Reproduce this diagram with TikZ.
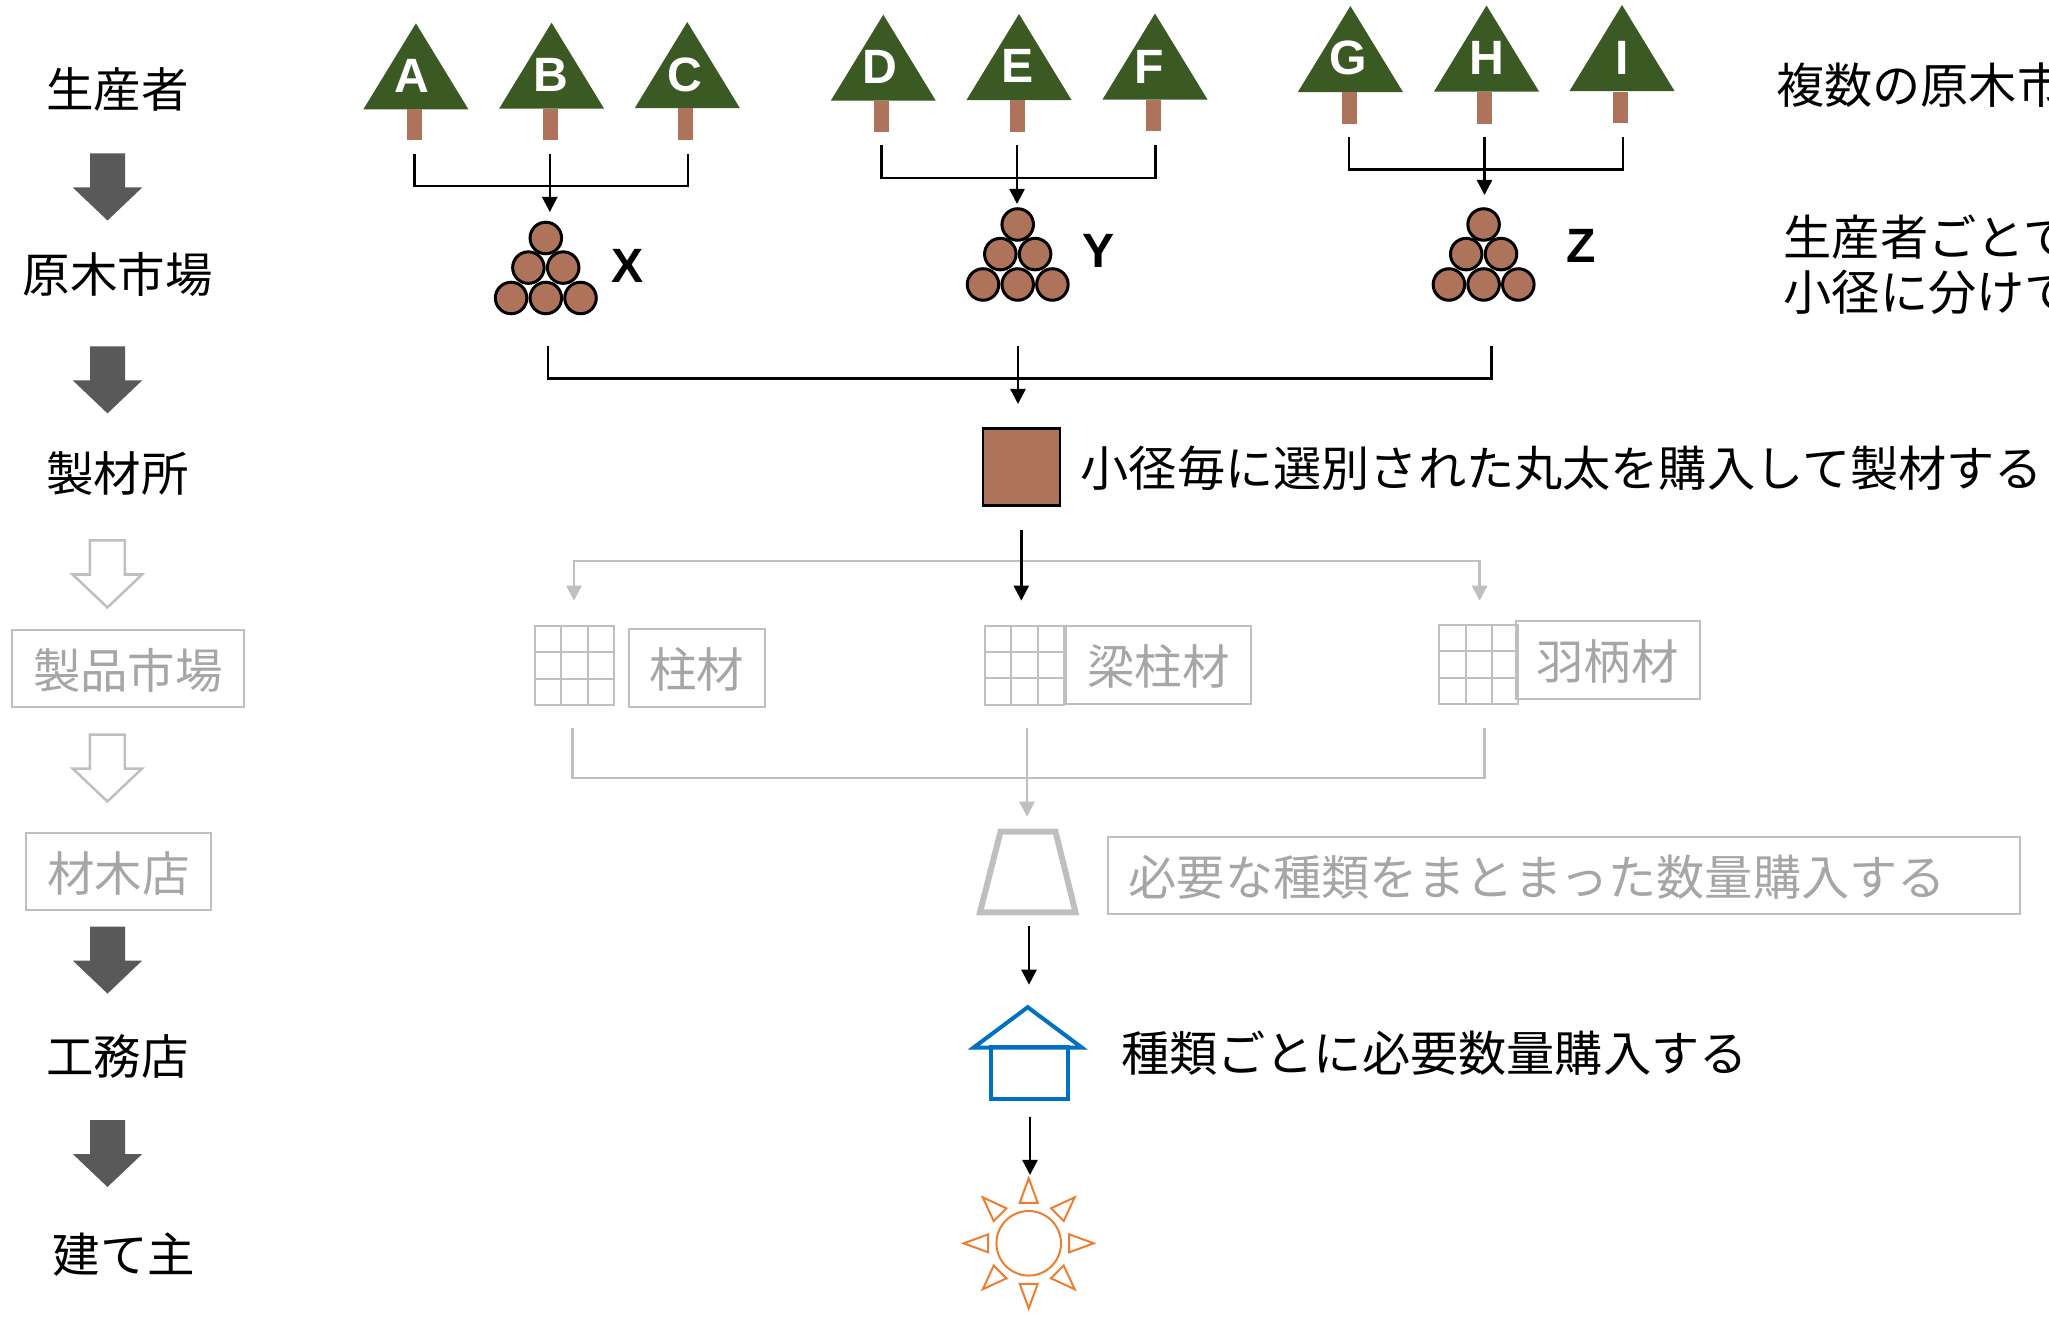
\documentclass[tikz,border=0pt]{standalone}
\usepackage{fontspec}
\setmainfont{Noto Sans CJK JP}
\newfontfamily\latinfont{Liberation Sans}
\usetikzlibrary{arrows.meta,positioning,shapes.geometric}
\definecolor{leafgreen}{HTML}{3B5A23}
\definecolor{woodbrown}{HTML}{AE735B}
\definecolor{fadeline}{HTML}{BFBFBF}
\definecolor{fadetext}{HTML}{A6A6A6}
\definecolor{darkblock}{HTML}{595959}
\definecolor{hutblue}{HTML}{0070C0}
\definecolor{sunorange}{HTML}{ED7D31}

\begin{document}
\begin{tikzpicture}[x=0.01cm,y=-0.01cm,line width=0.25mm,>={Triangle[length=4.3pt,width=4.3pt]},
  jp/.style={font=\fontsize{13.5pt}{17pt}\selectfont,inner sep=0pt,align=left},
  jpnote/.style={jp,font=\fontsize{13.7pt}{17pt}\selectfont,anchor=west},
  faded/.style={jp,text=fadetext},
  leaf/.style={isosceles triangle,isosceles triangle stretches,shape border rotate=90,fill=leafgreen,
    inner sep=0pt,outer sep=0pt,minimum width=1.05cm,minimum height=0.86cm,anchor=apex},
  bark/.style={fill=woodbrown,inner sep=0pt,minimum width=0.15cm,minimum height=0.31cm},
  letter/.style={font=\latinfont\bfseries\fontsize{13.7pt}{16pt}\selectfont,text=white,inner sep=0pt},
  stack/.style={letter,text=black},
  wood/.style={circle,draw,fill=woodbrown,line width=0.03cm,inner sep=0pt,minimum size=0.315cm},
  logpile/.pic={
    \node[wood] (-a) at (0,0) {};
    \node[wood] (-b) at (-17.4,29.6) {};
    \node[wood] (-c) at (17.4,29.6) {};
    \node[wood] (-d) at (-34.7,60) {};
    \node[wood] (-e) at (0,60) {};
    \node[wood] (-f) at (34.7,60) {};
  },
  blockdown/.pic={
    \path[pic actions] (-17.5,0) -- (17.5,0) -- (17.5,34) -- (34.7,34) -- (0,67)
      -- (-34.7,34) -- (-17.5,34) -- cycle;
  },
  darkdown/.style={fill=darkblock},
  lightdown/.style={draw=fadeline,fill=white},
  fadebox/.style={faded,draw=fadeline,line width=0.02cm,outer sep=0pt},
  timbergrid/.style={draw=fadeline,fill=white,line width=0.02cm,inner sep=0pt,outer sep=0pt,minimum size=0.79cm,
    path picture={\draw[fadeline,line width=0.02cm] (-13.2,-40) -- (-13.2,40) (13.2,-40) -- (13.2,40)
      (-40,-13.2) -- (40,-13.2) (-40,13.2) -- (40,13.2);}},
  fadeflow/.style={draw=fadeline},
  hutline/.style={draw=hutblue,line width=0.04cm,inner sep=0pt,outer sep=0pt},
  ring/.style={circle,draw=sunorange,line width=0.02cm,inner sep=0pt,minimum size=0.645cm},
  ray/.style={draw=sunorange,line width=0.02cm}]
  \useasboundingbox (0,0) rectangle (2049,1319);

  % left column
  \node[jp]   (grower)  at (117.6,89)   {生産者};
  \pic[darkdown] (dn1) at (107.5,153.5) {blockdown};
  \node[jp]   (logmkt)  at (117.6,274.5) {原木市場};
  \pic[darkdown] (dn2) at (107.5,346.4) {blockdown};
  \node[jp]   (mill)    at (117.6,474)  {製材所};
  \pic[lightdown] (dn3) at (107.4,540.5) {blockdown};
  \node[fadebox,minimum width=2.32cm,minimum height=0.77cm,text depth=-1pt] (prodmkt) at (128,668.3) {製品市場};
  \pic[lightdown] (dn4) at (107.4,734.5) {blockdown};
  \node[fadebox,minimum width=1.85cm,minimum height=0.77cm,text depth=-1pt] (lumber)  at (118.5,871.3) {材木店};
  \pic[darkdown] (dn5) at (107.5,926.6) {blockdown};
  \node[jp]   (builder) at (117.6,1056) {工務店};
  \pic[darkdown] (dn6) at (107.5,1120)  {blockdown};
  \node[jp]   (owner)   at (124,1255)   {建て主};

  % trees
  \node[leaf] (A) at (415.9,23.3) {};
  \node[bark] (barkA) at (414.5,124.5) {};
  \node[letter] (nameA) at (411.4,76) {A};
  \node[leaf] (B) at (551.6,22.7) {};
  \node[bark] (barkB) at (550.5,124.5) {};
  \node[letter] (nameB) at (551,75) {B};
  \node[leaf] (C) at (687.3,22) {};
  \node[bark] (barkC) at (685.5,124) {};
  \node[letter] (nameC) at (685,75) {C};
  \node[leaf] (D) at (883.3,14.7) {};
  \node[bark] (barkD) at (881.5,116.5) {};
  \node[letter] (nameD) at (880,67) {D};
  \node[leaf] (E) at (1019,14) {};
  \node[bark] (barkE) at (1017.5,116) {};
  \node[letter] (nameE) at (1017.7,66) {E};
  \node[leaf] (F) at (1155,13.5) {};
  \node[bark] (barkF) at (1153.5,115.5) {};
  \node[letter] (nameF) at (1149,67) {F};
  \node[leaf] (G) at (1350.4,6) {};
  \node[bark] (barkG) at (1349.5,108) {};
  \node[letter] (nameG) at (1348,58) {G};
  \node[leaf] (H) at (1486.5,5.5) {};
  \node[bark] (barkH) at (1484.5,108) {};
  \node[letter] (nameH) at (1486.5,58) {H};
  \node[leaf] (I) at (1622,5) {};
  \node[bark] (barkI) at (1620.5,107.5) {};
  \node[letter] (nameI) at (1622.6,58) {I};

  % brackets over the piles
  \coordinate (Xa) at (414.6,153.7);
  \coordinate (Xb) at (549.8,153.7);
  \coordinate (Xc) at (688,153.7);
  \coordinate (Xj) at (549.8,186);
  \coordinate (Xt) at (549.8,212);
  \draw (Xa) |- (Xj) -| (Xc);
  \path (Xb) edge[->] (Xt);
  \coordinate (Ya) at (881.5,145);
  \coordinate (Yb) at (1017,145);
  \coordinate (Yc) at (1155.6,145);
  \coordinate (Yj) at (1017,178);
  \coordinate (Yt) at (1017,204);
  \draw (Ya) |- (Yj) -| (Yc);
  \path (Yb) edge[->] (Yt);
  \coordinate (Za) at (1349,137);
  \coordinate (Zb) at (1484.5,137);
  \coordinate (Zc) at (1623,137);
  \coordinate (Zj) at (1484.5,169.7);
  \coordinate (Zt) at (1484.5,195);
  \draw (Za) |- (Zj) -| (Zc);
  \path (Zb) edge[->] (Zt);

  \pic (pileX) at (545.8,238) {logpile};
  \pic (pileY) at (1017.7,224.5) {logpile};
  \pic (pileZ) at (1483.6,224.5) {logpile};
  \node[stack] (nameX) at (628,265.7) {X};
  \node[stack] (nameY) at (1099,251) {Y};
  \node[stack] (nameZ) at (1581,245.7) {Z};

  % texts on the right run off the page
  \node[jpnote] (noteA) at (1775,85) {複数の原木市};
  \node[jpnote] (noteB) at (1782.5,236.7) {生産者ごとで};
  \node[jpnote] (noteC) at (1782.5,292.7) {小径に分けて};

  % mill
  \coordinate (Ma) at (548,345.7);
  \coordinate (Mb) at (1018,345.7);
  \coordinate (Mc) at (1491.6,345.7);
  \coordinate (Mj) at (1018,378.3);
  \coordinate (Mt) at (1018,404);
  \draw (Ma) |- (Mj) -| (Mc);
  \path (Mb) edge[->] (Mt);
  \node[draw,fill=woodbrown,inner sep=0pt,minimum size=0.77cm] (saw) at (1021.3,467) {};
  \node[jpnote] (sawnote) at (1079.5,468) {小径毎に選別された丸太を購入して製材する};

  % sorted timber
  \coordinate (Gl) at (574,600.7);
  \coordinate (Gr) at (1479.6,600.7);
  \coordinate (Gj) at (1022,561);
  \draw[fadeflow,->] (Gj) -| (Gl);
  \draw[fadeflow,->] (Gj) -| (Gr);
  \node[timbergrid] (gridA) at (574.3,665.3) {};
  \node[fadebox,minimum width=1.36cm,minimum height=0.78cm,text depth=-1pt] (boxA) at (696.7,668) {柱材};
  \node[timbergrid] (gridB) at (1024.6,665.2) {};
  \node[fadebox,minimum width=1.85cm,minimum height=0.78cm,text depth=-1pt] (boxB) at (1158.5,665) {梁柱材};
  \node[timbergrid] (gridC) at (1478.7,664.5) {};
  \node[fadebox,minimum width=1.84cm,minimum height=0.775cm,text depth=-1pt] (boxC) at (1607.6,659.8) {羽柄材};
  \draw[->,shorten <=0.23cm,shorten >=0.25cm] (saw.south) -- (saw.south |- gridB.north);

  \coordinate (La) at (572.4,728.3);
  \coordinate (Lb) at (1027,728.3);
  \coordinate (Lc) at (1484.7,728.3);
  \coordinate (Lj) at (1027,778);
  \coordinate (Lt) at (1027,816.7);
  \draw[fadeline] (La) |- (Lj) -| (Lc);
  \path (Lb) edge[fadeflow,->] (Lt);

  % lumber shop
  \draw[fadeline,line width=0.06cm] (1000.5,831.7) -- (1055.5,831.7) -- (1075.5,912.3) -- (980,912.3) -- cycle;
  \node[fadebox,font=\fontsize{13.7pt}{17pt}\selectfont,anchor=west,minimum width=9.12cm,minimum height=0.775cm,text width=8.7cm,text depth=-1pt] (shopnote) at (1107.7,875.5) {必要な種類をまとまった数量購入する};
  \coordinate (Sa) at (1029,926);
  \coordinate (St) at (1029,984.7);
  \path (Sa) edge[->] (St);

  % builder
  \node[hutline,isosceles triangle,isosceles triangle stretches,shape border rotate=90,
    minimum width=1.08cm,minimum height=0.403cm,anchor=apex] (roof) at (1027.7,1007.2) {};
  \node[hutline,minimum width=0.777cm,minimum height=0.515cm] (hut) at (1029.6,1073.2) {};
  \node[jpnote] (hutnote) at (1120,1053.5) {種類ごとに必要数量購入する};

  % owner
  \coordinate (Ha) at (1030,1116.7);
  \coordinate (Ht) at (1030,1175);
  \path (Ha) edge[->] (Ht);
  \node[ring] (sun) at (1028.7,1243.3) {};
  \foreach \a in {0,45,...,315}
    \draw[ray,shift={(sun.center)},rotate=\a] (40.5,-9) -- (65,0) -- (40.5,9) -- cycle;
\end{tikzpicture}
\end{document}
